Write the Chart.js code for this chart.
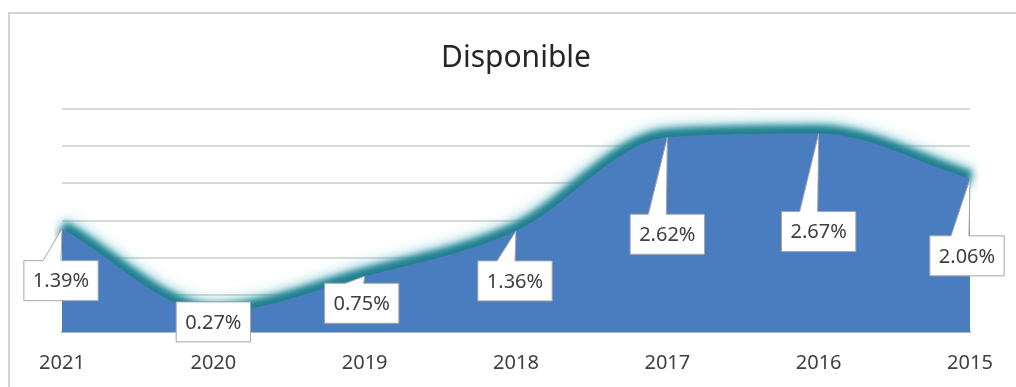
<!DOCTYPE html>
<html>
<head>
<meta charset="utf-8">
<script src="https://cdn.jsdelivr.net/npm/chart.js@4.4.0/dist/chart.umd.min.js"></script>
<style>
    html, body { margin: 0; padding: 0; background: #fff; }
    .wrap { position: relative; width: 1016px; height: 387px; overflow: hidden; }
    .frame { position: absolute; left: 8px; top: 12px; width: 1100px; height: 500px; border: 2px solid #d4d4d4; box-sizing: border-box; }
    canvas { position: absolute; left: 0; top: 0; }
</style>
</head>
<body>
<div class="wrap">
    <div class="frame"></div>
    <canvas id="chart" width="1016" height="387"></canvas>
</div>
<script>
// datos
const years = ['2021', '2020', '2019', '2018', '2017', '2016', '2015'];
const disponible = [1.39, 0.27, 0.75, 1.36, 2.62, 2.67, 2.06];
const yTicks = [0, 0.5, 1, 1.5, 2, 2.5, 3];

// where each callout box sits, relative to its point (px)
const calloutOffsets = [[-1, 52], [0, 10], [-3, 27], [-1, 50], [0, 97], [0, 98], [-3, 77]];

// soft glow on the line dataset
const glowPlugin = {
    id: 'glow',
    beforeDatasetDraw(chart, args) {
        if (args.index !== 0) return;
        const ctx = chart.ctx;
        ctx.save();
        ctx.filter = 'blur(3px)';
        ctx.shadowColor = 'rgba(70,175,190,0.9)';
        ctx.shadowBlur = 14;
    },
    afterDatasetDraw(chart, args) {
        if (args.index !== 0) return;
        chart.ctx.restore();
    }
};

// Excel-like callout labels
const calloutPlugin = {
    id: 'callouts',
    afterDatasetsDraw(chart) {
        const ctx = chart.ctx;
        const meta = chart.getDatasetMeta(1);
        ctx.save();
        ctx.font = '20px "Noto Sans"';
        meta.data.forEach((pt, i) => {
            const text = disponible[i].toFixed(2) + '%';
            const w = ctx.measureText(text).width + 18;
            const h = 40;
            const cx = pt.x + calloutOffsets[i][0];
            const cy = pt.y + calloutOffsets[i][1];
            const bx = cx - w / 2, by = cy - h / 2;
            let mid = Math.min(Math.max(pt.x - 10, bx + 12), bx + w - 12);
            ctx.beginPath();
            ctx.moveTo(bx, by);
            if (pt.y < by) {
                ctx.lineTo(mid - 9, by);
                ctx.lineTo(pt.x, pt.y);
                ctx.lineTo(mid + 9, by);
            }
            ctx.lineTo(bx + w, by);
            ctx.lineTo(bx + w, by + h);
            ctx.lineTo(bx, by + h);
            ctx.closePath();
            ctx.fillStyle = '#ffffff';
            ctx.fill();
            ctx.strokeStyle = '#a6a6a6';
            ctx.lineWidth = 1;
            ctx.stroke();
            ctx.fillStyle = '#404040';
            ctx.textAlign = 'center';
            ctx.textBaseline = 'middle';
            ctx.fillText(text, cx, cy + 1);
        });
        ctx.restore();
    }
};

new Chart(document.getElementById('chart'), {
    type: 'line',
    data: {
        labels: years,
        datasets: [{
            data: disponible,
            borderColor: '#22808f',
            borderWidth: 16,
            cubicInterpolationMode: 'monotone',
            pointRadius: 0,
            fill: false,
            order: 2
        }, {
            data: disponible,
            borderWidth: 0,
            backgroundColor: '#4a7dc0',
            cubicInterpolationMode: 'monotone',
            pointRadius: 0,
            fill: 'origin',
            order: 1
        }]
    },
    options: {
        responsive: false,
        animation: false,
        layout: {
            padding: { left: 62, right: 46, top: 0, bottom: -7 }
        },
        plugins: {
            legend: { display: false },
            tooltip: { enabled: false },
            title: {
                display: true,
                text: 'Disponible',
                color: '#262626',
                font: { family: '"Noto Sans"', size: 30, weight: 'normal' },
                padding: { top: 40, bottom: 33 }
            }
        },
        scales: {
            x: {
                offset: false,
                grid: { display: false, drawTicks: false },
                border: { display: true, color: '#a9bcd8', width: 2 },
                ticks: {
                    color: '#404040',
                    padding: 19,
                    maxRotation: 0,
                    font: { family: '"Noto Sans"', size: 20 }
                }
            },
            y: {
                min: yTicks[0],
                max: yTicks[yTicks.length - 1],
                afterBuildTicks: axis => { axis.ticks = yTicks.map(v => ({ value: v })); },
                grid: { color: '#d9d9d9', lineWidth: 2, drawTicks: false },
                border: { display: false },
                ticks: { display: false }
            }
        }
    },
    plugins: [glowPlugin, calloutPlugin]
});
</script>
</body>
</html>
